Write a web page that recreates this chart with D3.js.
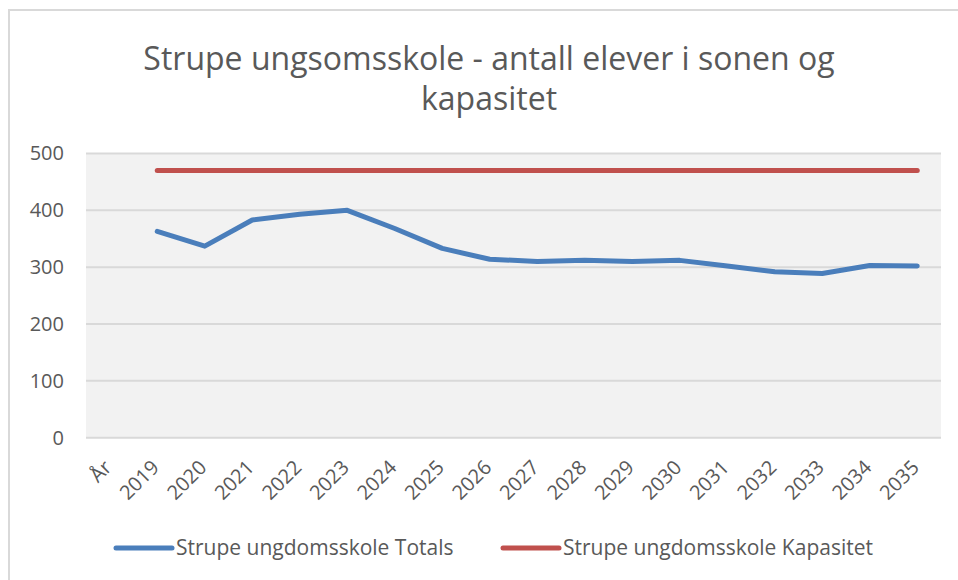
<!DOCTYPE html>
<html>
<head>
<meta charset="utf-8">
<script src="https://d3js.org/d3.v7.min.js"></script>
<style>
  body { margin: 0; background: #fff; }
  svg text { font-family: "Open Sans", sans-serif; fill: #595959; }
</style>
</head>
<body>
<div id="chart"></div>
<script>
// Data
const years = ["År", "2019", "2020", "2021", "2022", "2023", "2024", "2025", "2026",
               "2027", "2028", "2029", "2030", "2031", "2032", "2033", "2034", "2035"];
const totals = [null, 363, 337, 383, 393, 400, 368, 333, 314, 310, 312, 310, 312, 302, 292, 289, 303, 302];
const capacity = [null, 470, 470, 470, 470, 470, 470, 470, 470, 470, 470, 470, 470, 470, 470, 470, 470, 470];
const yTicks = [0, 100, 200, 300, 400, 500];
const titleLines = ["Strupe ungsomsskole - antall elever i sonen og", "kapasitet"];
const seriesNames = ["Strupe ungdomsskole Totals", "Strupe ungdomsskole Kapasitet"];

const width = 958, height = 580;
const blue = '#4a7ebb', red = '#c0504d';

const svg = d3.select('#chart').append('svg')
    .attr('width', width)
    .attr('height', height);

// outer chart frame
svg.append('rect')
    .attr('x', 9).attr('y', 10)
    .attr('width', 980).attr('height', 600)
    .attr('fill', '#fff')
    .attr('stroke', '#d9d9d9')
    .attr('stroke-width', 2);

// title
svg.append('g').selectAll('text')
    .data(titleLines)
    .join('text')
    .attr('x', 489)
    .attr('y', (d, i) => 70 + i * 40)
    .attr('text-anchor', 'middle')
    .style('font-size', '32px')
    .text(d => d);

const plot = {left: 86, right: 941, top: 153.5, bottom: 437.7};

const x = d3.scaleBand().domain(years).range([plot.left, plot.right]).padding(0);
const y = d3.scaleLinear().domain([0, 500]).range([plot.bottom, plot.top]);
const cx = d => x(d) + x.bandwidth() / 2;

// plot background
svg.append('rect')
    .attr('x', plot.left).attr('y', plot.top)
    .attr('width', plot.right - plot.left)
    .attr('height', plot.bottom - plot.top)
    .attr('fill', '#f2f2f2');

// gridlines
svg.append('g').selectAll('line')
    .data(yTicks)
    .join('line')
    .attr('x1', plot.left).attr('x2', plot.right)
    .attr('y1', d => y(d)).attr('y2', d => y(d))
    .attr('stroke', '#d9d9d9')
    .attr('stroke-width', 2);

// y axis labels
const yAxis = svg.append('g')
    .attr('transform', `translate(${plot.left - 22},0)`)
    .call(d3.axisLeft(y).tickValues(yTicks).tickSize(0).tickPadding(0));
yAxis.select('.domain').remove();
yAxis.selectAll('text')
    .style('font-size', '20px')
    .style('font-family', '"Open Sans", sans-serif')
    .attr('fill', '#595959');

// x axis labels, rotated
const xAxis = svg.append('g')
    .attr('transform', `translate(0,${plot.bottom})`)
    .call(d3.axisBottom(x).tickSize(0).tickPadding(0));
xAxis.select('.domain').remove();
xAxis.selectAll('text')
    .style('font-size', '20px')
    .style('font-family', '"Open Sans", sans-serif')
    .attr('fill', '#595959')
    .attr('text-anchor', 'end')
    .attr('dy', null)
    .attr('y', 0)
    .attr('transform', 'translate(3,31) rotate(-45)');

// lines
const line = d3.line()
    .defined(d => d.v != null)
    .x(d => cx(d.year))
    .y(d => y(d.v));

const series = [
    {name: seriesNames[0], color: blue, values: totals},
    {name: seriesNames[1], color: red, values: capacity}
];

svg.append('g').selectAll('path')
    .data(series)
    .join('path')
    .attr('d', s => line(years.map((yr, i) => ({year: yr, v: s.values[i]}))))
    .attr('fill', 'none')
    .attr('stroke', s => s.color)
    .attr('stroke-width', 5)
    .attr('stroke-linejoin', 'round')
    .attr('stroke-linecap', 'round');

// legend
const legendX = [116, 503];
const legend = svg.append('g').selectAll('g')
    .data(series)
    .join('g')
    .attr('transform', (d, i) => `translate(${legendX[i]},548)`);
legend.append('line')
    .attr('x1', 0).attr('x2', 56)
    .attr('stroke', d => d.color)
    .attr('stroke-width', 5)
    .attr('stroke-linecap', 'round');
legend.append('text')
    .attr('x', 60)
    .attr('dy', '0.35em')
    .style('font-size', '21px')
    .text(d => d.name);
</script>
</body>
</html>
